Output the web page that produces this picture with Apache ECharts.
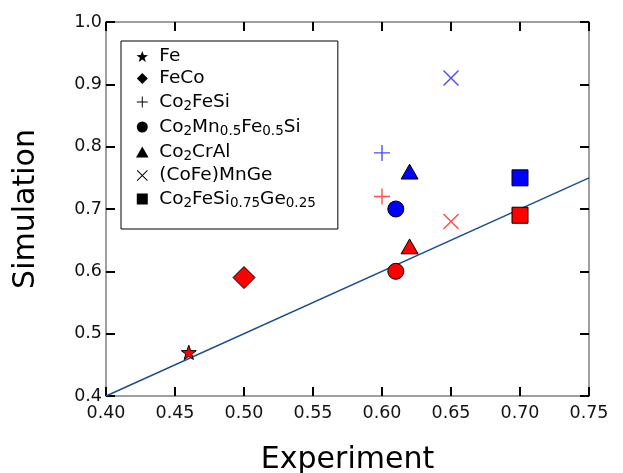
<!DOCTYPE html>
<html>
<head>
<meta charset="utf-8">
<script src="https://cdn.jsdelivr.net/npm/echarts@6/dist/echarts.min.js"></script>
<style>
  html, body { margin: 0; padding: 0; background: #fff; }
  #chart { width: 623px; height: 473px; }
</style>
</head>
<body>
<div id="chart"></div>
<script>
// --- Data ---
const compounds = ['Fe', 'FeCo', 'Co2FeSi', 'Co2Mn0.5Fe0.5Si', 'Co2CrAl', '(CoFe)MnGe', 'Co2FeSi0.75Ge0.25']
const experiment = [0.46, 0.50, 0.60, 0.61, 0.62, 0.65, 0.70]
// red = first simulation, blue = second (null when missing)
const simRed = [0.47, 0.59, 0.72, 0.60, 0.64, 0.68, 0.69]
const simBlue = [null, null, 0.79, 0.70, 0.76, 0.91, 0.75]
const diagonal = [[0.40, 0.40], [0.75, 0.75]]

// --- Symbols (paths so they keep their aspect in the legend too) ---
const STAR = 'path://M0,-10 L2.35,-3.24 L9.51,-3.09 L3.8,1.24 L5.88,8.09 L0,4 L-5.88,8.09 L-3.8,1.24 L-9.51,-3.09 L-2.35,-3.24 Z'
const DIAMOND = 'path://M0,-10 L10,0 L0,10 L-10,0 Z'
const PLUS = 'path://M-0.7,-8 H0.7 V-0.7 H8 V0.7 H0.7 V8 H-0.7 V0.7 H-8 V-0.7 H-0.7 Z'
const TRIANGLE = 'path://M0,-7 L8,7 L-8,7 Z'
const CROSS = 'path://M-8,-7 L-7,-8 L0,-1 L7,-8 L8,-7 L1,0 L8,7 L7,8 L0,1 L-7,8 L-8,7 L-1,0 Z'
const SQUARE = 'path://M-8,-8 H8 V8 H-8 Z'
const symbols = [STAR, DIAMOND, PLUS, 'circle', TRIANGLE, CROSS, SQUARE]
const sizes = [15, 22, 16, 16, 17, 16, 16]
const lineOnly = [false, false, true, false, false, true, false]

// legend labels with subscripts
const labels = {
  'Fe': '{n|Fe}',
  'FeCo': '{n|FeCo}',
  'Co2FeSi': '{n|Co}{s|2}{n|FeSi}',
  'Co2Mn0.5Fe0.5Si': '{n|Co}{s|2}{n|Mn}{s|0.5}{n|Fe}{s|0.5}{n|Si}',
  'Co2CrAl': '{n|Co}{s|2}{n|CrAl}',
  '(CoFe)MnGe': '{n|(CoFe)MnGe}',
  'Co2FeSi0.75Ge0.25': '{n|Co}{s|2}{n|FeSi}{s|0.75}{n|Ge}{s|0.25}',
}

const font = 'DejaVu Sans'

const pointStyle = (color, line) =>
  line
    ? { color: color, opacity: 0.7, borderWidth: 0 }
    : { color: color, opacity: 1, borderColor: '#000', borderWidth: 1 }

const series = compounds.map((name, i) => {
  const data = [{ value: [experiment[i], simRed[i]], itemStyle: pointStyle('#ff0000', lineOnly[i]) }]
  if (simBlue[i] != null) {
    data.push({ value: [experiment[i], simBlue[i]], itemStyle: pointStyle('#0000ff', lineOnly[i]) })
  }
  return {
    name: name,
    type: 'scatter',
    symbol: symbols[i],
    symbolSize: sizes[i],
    symbolKeepAspect: true,
    data: data,
    z: 3,
  }
})

series.unshift({
  name: 'fit',
  type: 'line',
  data: diagonal,
  symbol: 'none',
  lineStyle: { color: '#1d4f8c', width: 1.5 },
  z: 2,
  silent: true,
})

const axisCommon = {
  type: 'value',
  axisLine: { show: true, onZero: false, lineStyle: { color: '#808080', width: 1.5 } },
  axisTick: { show: true, inside: true, length: 9, lineStyle: { color: '#000', width: 2 } },
  splitLine: { show: false },
}

const chart = echarts.init(document.getElementById('chart'))
chart.setOption({
  animation: false,
  grid: { left: 106, right: 34, top: 22, bottom: 77, outerBoundsMode: 'none', containLabel: false },
  legend: {
    orient: 'vertical',
    left: 121,
    top: 41,
    padding: [6, 22, 19, 15],
    itemGap: 3,
    itemWidth: 24,
    itemHeight: 11,
    backgroundColor: '#fff',
    borderColor: '#000',
    borderWidth: 1,
    borderRadius: 0,
    selectedMode: false,
    data: compounds.map((name, i) => ({
      name: name,
      icon: symbols[i],
      itemStyle: { color: '#000', borderWidth: 0, opacity: 1 },
    })),
    formatter: (name) => labels[name],
    textStyle: {
      fontFamily: font,
      color: '#000',
      rich: {
        n: { fontFamily: font, fontSize: 18.5, lineHeight: 21, color: '#000' },
        s: { fontFamily: font, fontSize: 13.5, lineHeight: 13, color: '#000', padding: [8, 0, 0, 0] },
      },
    },
  },
  xAxis: [
    {
      ...axisCommon,
      min: 0.40,
      max: 0.75,
      interval: 0.05,
      name: 'Experiment',
      nameLocation: 'middle',
      nameGap: 49,
      nameTextStyle: { fontFamily: font, fontSize: 30, color: '#000' },
      axisLabel: {
        fontFamily: font,
        fontSize: 17.5,
        color: '#111',
        margin: 8,
        formatter: (v) => v.toFixed(2),
      },
    },
    {
      ...axisCommon,
      position: 'top',
      min: 0.40,
      max: 0.75,
      interval: 0.05,
      axisLabel: { show: false },
    },
  ],
  yAxis: [
    {
      ...axisCommon,
      min: 0.4,
      max: 1.0,
      interval: 0.1,
      name: 'Simulation',
      nameLocation: 'middle',
      nameGap: 65,
      nameTextStyle: { fontFamily: font, fontSize: 30, color: '#000' },
      axisLabel: {
        fontFamily: font,
        fontSize: 17.5,
        color: '#111',
        margin: 4,
        formatter: (v) => v.toFixed(1),
      },
    },
    {
      ...axisCommon,
      position: 'right',
      min: 0.4,
      max: 1.0,
      interval: 0.1,
      axisLabel: { show: false },
    },
  ],
  series: series,
})

window.addEventListener('resize', () => chart.resize())
</script>
</body>
</html>
